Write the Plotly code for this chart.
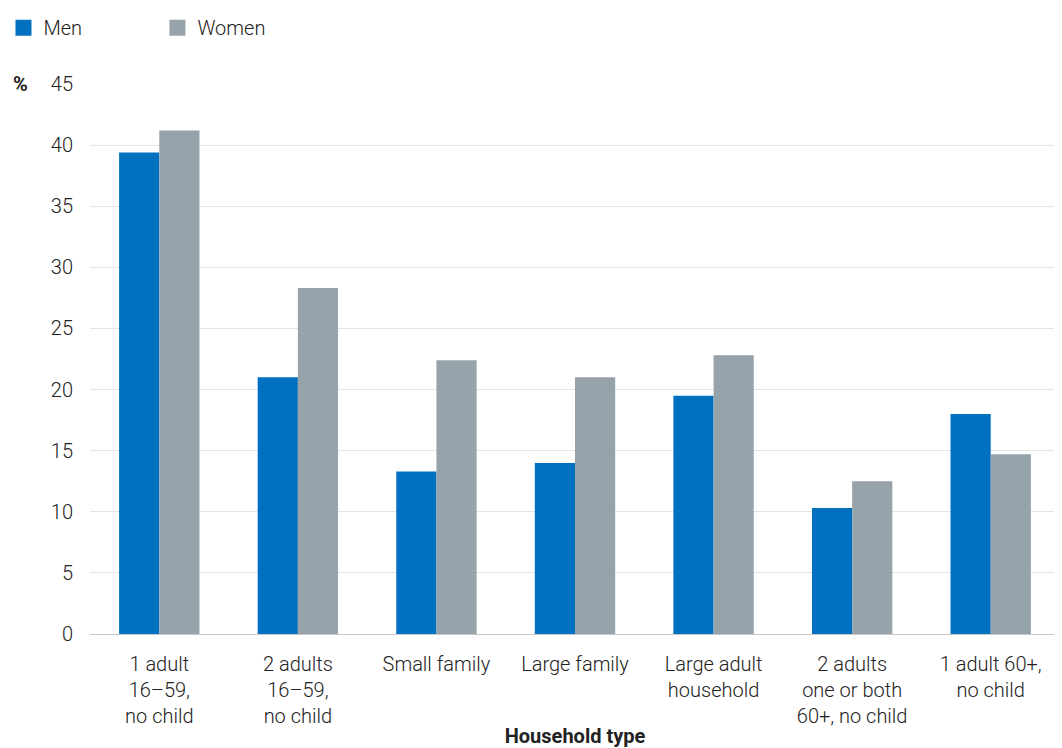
import plotly.graph_objects as go

categories = [
    "1 adult<br>16–59,<br>no child",
    "2 adults<br>16–59,<br>no child",
    "Small family",
    "Large family",
    "Large adult<br>household",
    "2 adults<br>one or both<br>60+, no child",
    "1 adult 60+,<br>no child",
]
men = [39.4, 21.0, 13.3, 14.0, 19.5, 10.3, 18.0]
women = [41.2, 28.3, 22.4, 21.0, 22.8, 12.5, 14.7]
y_ticks = [0, 5, 10, 15, 20, 25, 30, 35, 40, 45]

MEN_COLOR = "#0070C0"
WOMEN_COLOR = "#97A3AB"
FONT = "Roboto, Open Sans, sans-serif"

fig = go.Figure()
fig.add_trace(go.Bar(name="Men", x=categories, y=men, marker_color=MEN_COLOR,
                     marker_line_width=0, showlegend=False, legendgroup="m"))
fig.add_trace(go.Bar(name="Women", x=categories, y=women, marker_color=WOMEN_COLOR,
                     marker_line_width=0, showlegend=False, legendgroup="w"))
# legend entries with larger square swatches
fig.add_trace(go.Scatter(name="Men", x=[None], y=[None], mode="markers",
                         marker=dict(symbol="square", size=16, color=MEN_COLOR),
                         legendgroup="m", hoverinfo="skip"))
fig.add_trace(go.Scatter(name="Women", x=[None], y=[None], mode="markers",
                         marker=dict(symbol="square", size=16, color=WOMEN_COLOR),
                         legendgroup="w", hoverinfo="skip"))

fig.update_layout(
    width=1054, height=740,
    margin=dict(l=82, r=2, t=76, b=114, autoexpand=False),
    paper_bgcolor="white", plot_bgcolor="white",
    barmode="group", bargap=0.42, bargroupgap=0,
    font=dict(family=FONT, size=20, color="#222222", weight=300),
    legend=dict(orientation="h", x=-0.0892, xanchor="left", y=1.067, yanchor="bottom",
                entrywidth=109, font=dict(size=20, weight=300), itemwidth=30,
                itemsizing="trace", traceorder="normal"),
    showlegend=True,
)
fig.update_yaxes(range=[0, 45], tickvals=y_ticks, showgrid=True, gridcolor="#e4e4e4",
                 gridwidth=1, zeroline=False, showline=False, ticks="",
                 ticklabelstandoff=16, tickfont=dict(size=20, weight=300))
fig.update_xaxes(showline=True, linecolor="#c8c8c8", linewidth=1, ticks="",
                 tickfont=dict(size=20, weight=300), ticklabelstandoff=12,
                 title=dict(text="<b>Household type</b>", font=dict(size=20), standoff=2))
fig.add_annotation(text="<b>%</b>", xref="paper", yref="paper", x=-0.072, y=1.0,
                   xanchor="center", yanchor="middle", showarrow=False,
                   font=dict(size=20))

fig.write_html("out.html")
